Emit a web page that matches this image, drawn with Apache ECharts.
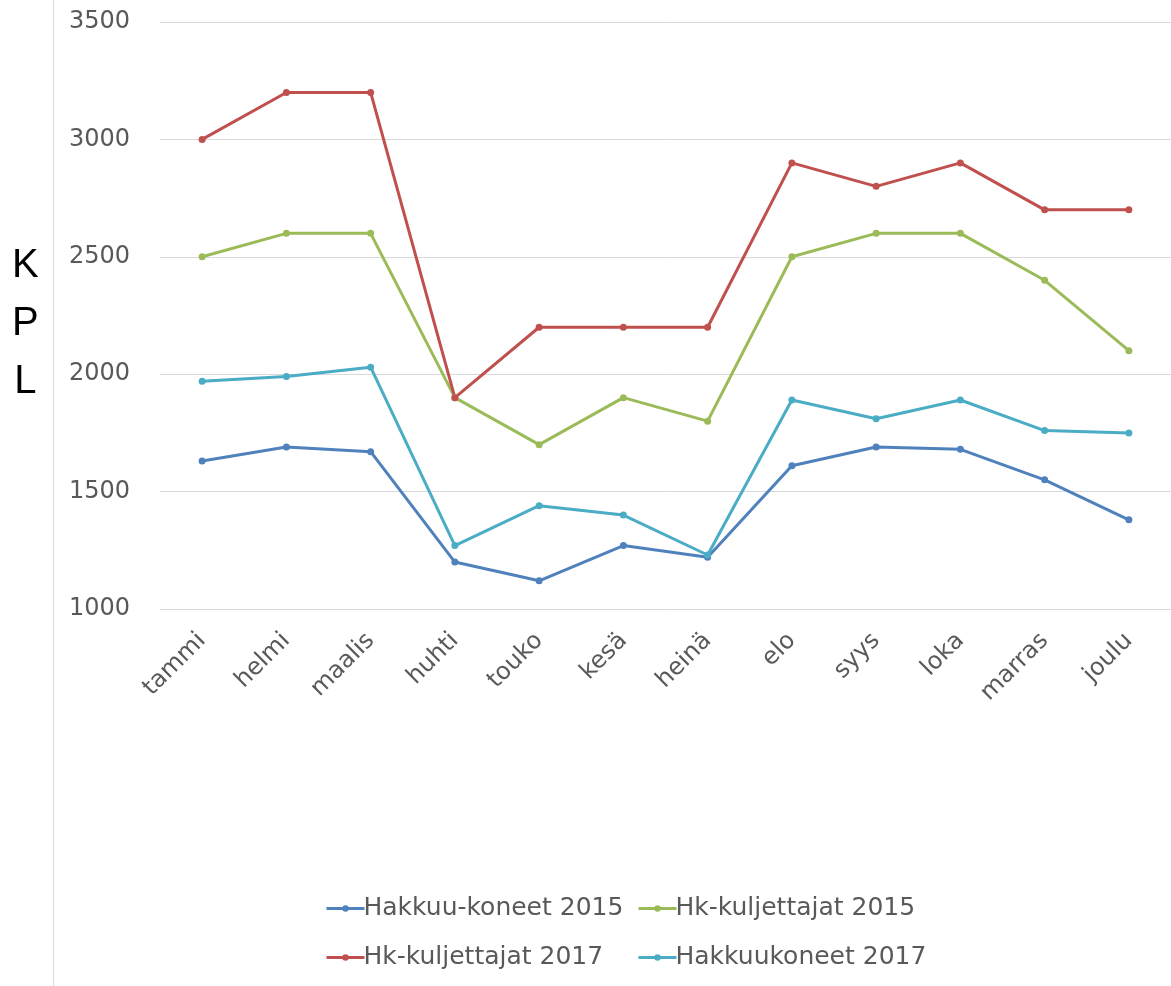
<!DOCTYPE html>
<html><head><meta charset="utf-8">
<script src="https://cdn.jsdelivr.net/npm/echarts@6/dist/echarts.min.js"></script>
<style>html,body{margin:0;padding:0;background:#fff}#c{width:1171px;height:986px}</style>
</head><body><div id="c"></div>
<script>
const categories = ['tammi','helmi','maalis','huhti','touko','kesä','heinä','elo','syys','loka','marras','joulu'];
const hakkuuKoneet2015 = [1630,1690,1670,1200,1120,1270,1220,1610,1690,1680,1550,1380];
const hkKuljettajat2015 = [2500,2600,2600,1900,1700,1900,1800,2500,2600,2600,2400,2100];
const hkKuljettajat2017 = [3000,3200,3200,1900,2200,2200,2200,2900,2800,2900,2700,2700];
const hakkuukoneet2017 = [1970,1990,2030,1270,1440,1400,1230,1890,1810,1890,1760,1750];
const yTicks = {min:1000, max:3500, interval:500};

const font = 'DejaVu Sans, sans-serif';
const chart = echarts.init(document.getElementById('c'));
function s(name, data, color){
  return {name, type:'line', data, color, symbol:'circle', symbolSize:7,
    lineStyle:{width:3, color}, itemStyle:{color}, z: 2};
}
const legendCommon = {orient:'vertical', itemWidth:38, itemHeight:8, itemGap:24,
  lineStyle:{width:3},
  textStyle:{fontFamily:font, fontSize:25, color:'#595959', padding:[0,0,0,-6]}, top:896, padding:0};
chart.setOption({
  animation:false,
  grid:{left:160, top:22, width:1021, height:587},
  xAxis:{type:'category', data:categories, boundaryGap:true,
    axisLine:{show:false}, axisTick:{show:false},
    axisLabel:{rotate:45, fontFamily:font, fontSize:24, color:'#595959', margin:28}},
  yAxis:{type:'value', min:yTicks.min, max:yTicks.max, interval:yTicks.interval,
    axisLine:{show:false}, axisTick:{show:false},
    splitLine:{lineStyle:{color:'#d9d9d9', width:1}},
    axisLabel:{fontFamily:font, fontSize:24, color:'#595959', margin:30, formatter: v => String(v)}},
  legend:[
    Object.assign({left:325, data:['Hakkuu-koneet 2015','Hk-kuljettajat 2017']}, legendCommon),
    Object.assign({left:637, data:['Hk-kuljettajat 2015','Hakkuukoneet 2017']}, legendCommon)
  ],
  graphic:[
    {type:'line', shape:{x1:53.5,y1:0,x2:53.5,y2:986}, style:{stroke:'#d9d9d9', lineWidth:1}},
    {type:'text', left:12, top:237, style:{text:'K\nP\nL', font:'40px Liberation Sans, Arial, sans-serif', fill:'#000', lineHeight:58, textAlign:'center'}}
  ],
  series:[
    s('Hakkuu-koneet 2015', hakkuuKoneet2015, '#4f81bd'),
    s('Hk-kuljettajat 2015', hkKuljettajat2015, '#9bbb59'),
    s('Hk-kuljettajat 2017', hkKuljettajat2017, '#c0504d'),
    s('Hakkuukoneet 2017', hakkuukoneet2017, '#4bacc6')
  ]
});
</script></body></html>
